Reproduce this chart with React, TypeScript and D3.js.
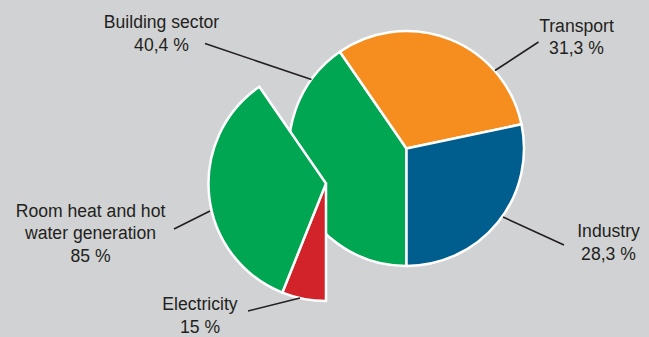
import React from "react";
import * as d3 from "d3";

const sectors = ["Building sector", "Transport", "Industry"];
const sectorShares = [40.4, 31.3, 28.3];
const sectorLabels = ["40,4 %", "31,3 %", "28,3 %"];

const subUses = ["Electricity", "Room heat and hot water generation"];
const subShares = [15, 85];
const subLabels = ["15 %", "85 %"];

const W = 649;
const H = 337;
const BG = "#d1d2d4";
const TEXT = "#231f20";
const sectorColors = ["#00a651", "#f68e1f", "#005e8f"];
const subColors = ["#d2232a", "#00a651"];

const mainCenter = [406.5, 148.5];
const fanCenter = [326, 183.5];
const R = 117.5;

type Lbl = { lines: string[]; x: number; y: number; line: [number, number, number, number] };

const labelLayout: Record<string, Lbl> = {
  "Building sector": { lines: ["Building sector"], x: 161.5, y: 28.3, line: [205, 43.5, 311.5, 79.5] },
  Transport: { lines: ["Transport"], x: 576.5, y: 31.7, line: [495, 70.5, 538.5, 42] },
  Industry: { lines: ["Industry"], x: 608.5, y: 237.3, line: [503, 217, 564, 245] },
  "Room heat and hot water generation": {
    lines: ["Room heat and hot", "water generation"],
    x: 90.5,
    y: 216.7,
    line: [210, 211, 174, 229],
  },
  Electricity: { lines: ["Electricity"], x: 200, y: 310, line: [300, 298, 248, 311] },
};

export default function App() {
  const mainPie = d3
    .pie<number>()
    .sort(null)
    .startAngle(Math.PI)
    .endAngle(3 * Math.PI)(sectorShares);

  const buildingArc = mainPie[0];
  const fanPie = d3
    .pie<number>()
    .sort(null)
    .startAngle(buildingArc.startAngle)
    .endAngle(buildingArc.endAngle)(subShares);

  const arc = d3.arc<d3.PieArcDatum<number>>().innerRadius(0).outerRadius(R);

  const renderLabel = (name: string, pct: string, key: string) => {
    const L = labelLayout[name];
    const lh = 22.5;
    return (
      <g key={key}>
        <line
          x1={L.line[0]}
          y1={L.line[1]}
          x2={L.line[2]}
          y2={L.line[3]}
          stroke={TEXT}
          strokeWidth={1.6}
        />
        <text
          textAnchor="middle"
          fontFamily="'Liberation Sans', Arial, sans-serif"
          fontSize={17.6}
          fill={TEXT}
        >
          {[...L.lines, pct].map((t, i) => (
            <tspan key={i} x={L.x} y={L.y + i * lh}>
              {t}
            </tspan>
          ))}
        </text>
      </g>
    );
  };

  return (
    <svg
      width={W}
      height={H}
      style={{ position: "absolute", left: 0, top: 0, background: BG }}
    >
      <rect width={W} height={H} fill={BG} />
      <g transform={`translate(${mainCenter[0]},${mainCenter[1]})`}>
        {mainPie.map((d, i) => (
          <path
            key={sectors[i]}
            d={arc(d) || ""}
            fill={sectorColors[i]}
            stroke="#fff"
            strokeWidth={2.5}
            strokeLinejoin="round"
          />
        ))}
      </g>
      <g transform={`translate(${fanCenter[0]},${fanCenter[1]})`}>
        {fanPie.map((d, i) => (
          <path
            key={subUses[i]}
            d={arc(d) || ""}
            fill={subColors[i]}
            stroke="#fff"
            strokeWidth={2.5}
            strokeLinejoin="miter"
          />
        ))}
      </g>
      {sectors.map((s, i) => renderLabel(s, sectorLabels[i], "s" + i))}
      {subUses.map((s, i) => renderLabel(s, subLabels[i], "u" + i))}
    </svg>
  );
}
